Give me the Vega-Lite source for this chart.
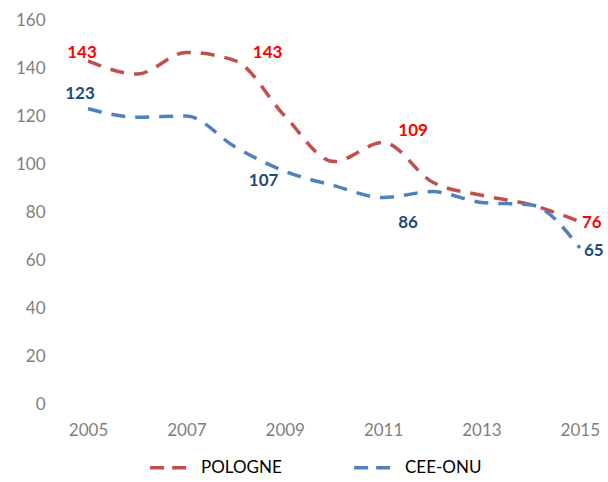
{
  "$schema": "https://vega.github.io/schema/vega-lite/v6.json",
  "width": 540,
  "height": 384,
  "autosize": {"type": "none"},
  "padding": {"left": 60, "top": 20, "right": 8, "bottom": 78},
  "background": "white",
  "config": {
    "view": {"stroke": null},
    "font": "Lato",
    "axis": {"grid": false, "domain": false, "ticks": false, "labelColor": "#7f7f7f", "labelFontSize": 17, "labelFont": "Lato", "title": null}
  },
  "data": {
    "values": [
      {"s": "POLOGNE", "year": 2005, "v": 143},
      {"s": "POLOGNE", "year": 2006, "v": 137.5},
      {"s": "POLOGNE", "year": 2007, "v": 146.5},
      {"s": "POLOGNE", "year": 2008, "v": 143},
      {"s": "POLOGNE", "year": 2009, "v": 120},
      {"s": "POLOGNE", "year": 2010, "v": 101},
      {"s": "POLOGNE", "year": 2011, "v": 109},
      {"s": "POLOGNE", "year": 2012, "v": 92.5},
      {"s": "POLOGNE", "year": 2013, "v": 87},
      {"s": "POLOGNE", "year": 2014, "v": 83},
      {"s": "POLOGNE", "year": 2015, "v": 76},
      {"s": "CEE-ONU", "year": 2005, "v": 123},
      {"s": "CEE-ONU", "year": 2006, "v": 119.5},
      {"s": "CEE-ONU", "year": 2007, "v": 120},
      {"s": "CEE-ONU", "year": 2008, "v": 107},
      {"s": "CEE-ONU", "year": 2009, "v": 97},
      {"s": "CEE-ONU", "year": 2010, "v": 91},
      {"s": "CEE-ONU", "year": 2011, "v": 86},
      {"s": "CEE-ONU", "year": 2012, "v": 88.5},
      {"s": "CEE-ONU", "year": 2013, "v": 84},
      {"s": "CEE-ONU", "year": 2014, "v": 83},
      {"s": "CEE-ONU", "year": 2015, "v": 65}
    ]
  },
  "encoding": {
    "x": {"field": "year", "type": "quantitative", "scale": {"domain": [2004.43, 2015.41], "nice": false, "zero": false},
          "axis": {"values": [2005, 2007, 2009, 2011, 2013, 2015], "format": "d", "labelPadding": 18}},
    "y": {"field": "v", "type": "quantitative", "scale": {"domain": [0, 160], "nice": false},
          "axis": {"values": [0, 20, 40, 60, 80, 100, 120, 140, 160], "labelPadding": 15}}
  },
  "layer": [
    {
      "mark": {"type": "line", "interpolate": "monotone", "strokeWidth": 3.5, "strokeDash": [14, 10]},
      "encoding": {
        "color": {"field": "s", "type": "nominal", "sort": ["POLOGNE", "CEE-ONU"],
                  "scale": {"domain": ["POLOGNE", "CEE-ONU"], "range": ["#C0504D", "#4F81BD"]},
                  "legend": {"title": null, "orient": "none", "legendX": 88, "legendY": 426, "direction": "horizontal",
                             "symbolType": "stroke", "symbolStrokeWidth": 3.5, "symbolDash": [14, 8], "symbolSize": 1500,
                             "labelFontSize": 17, "labelColor": "#000000", "labelFont": "Lato", "columnPadding": 65, "labelOffset": 10}}
      }
    },
    {"transform": [{"filter": "datum.s=='POLOGNE' && datum.year==2005"}],
     "mark": {"type": "text", "fontWeight": "bold", "fontSize": 17, "color": "#FF0000", "dx": -6, "dy": -8, "baseline": "middle"},
     "encoding": {"text": {"field": "v"}}},
    {"transform": [{"filter": "datum.s=='POLOGNE' && datum.year==2008"}],
     "mark": {"type": "text", "fontWeight": "bold", "fontSize": 17, "color": "#FF0000", "dx": 32, "dy": -8, "baseline": "middle"},
     "encoding": {"text": {"field": "v"}}},
    {"transform": [{"filter": "datum.s=='POLOGNE' && datum.year==2011"}],
     "mark": {"type": "text", "fontWeight": "bold", "fontSize": 17, "color": "#FF0000", "dx": 30, "dy": -11, "baseline": "middle"},
     "encoding": {"text": {"field": "v"}}},
    {"transform": [{"filter": "datum.s=='POLOGNE' && datum.year==2015"}],
     "mark": {"type": "text", "fontWeight": "bold", "fontSize": 17, "color": "#FF0000", "dx": 12, "dy": 1, "baseline": "middle"},
     "encoding": {"text": {"field": "v"}}},
    {"transform": [{"filter": "datum.s=='CEE-ONU' && datum.year==2005"}],
     "mark": {"type": "text", "fontWeight": "bold", "fontSize": 17, "color": "#1F497D", "dx": -8, "dy": -15, "baseline": "middle"},
     "encoding": {"text": {"field": "v"}}},
    {"transform": [{"filter": "datum.s=='CEE-ONU' && datum.year==2008"}],
     "mark": {"type": "text", "fontWeight": "bold", "fontSize": 17, "color": "#1F497D", "dx": 28, "dy": 34, "baseline": "middle"},
     "encoding": {"text": {"field": "v"}}},
    {"transform": [{"filter": "datum.s=='CEE-ONU' && datum.year==2011"}],
     "mark": {"type": "text", "fontWeight": "bold", "fontSize": 17, "color": "#1F497D", "dx": 25, "dy": 25, "baseline": "middle"},
     "encoding": {"text": {"field": "v"}}},
    {"transform": [{"filter": "datum.s=='CEE-ONU' && datum.year==2015"}],
     "mark": {"type": "text", "fontWeight": "bold", "fontSize": 17, "color": "#1F497D", "dx": 14, "dy": 3, "baseline": "middle"},
     "encoding": {"text": {"field": "v"}}}
  ]
}
